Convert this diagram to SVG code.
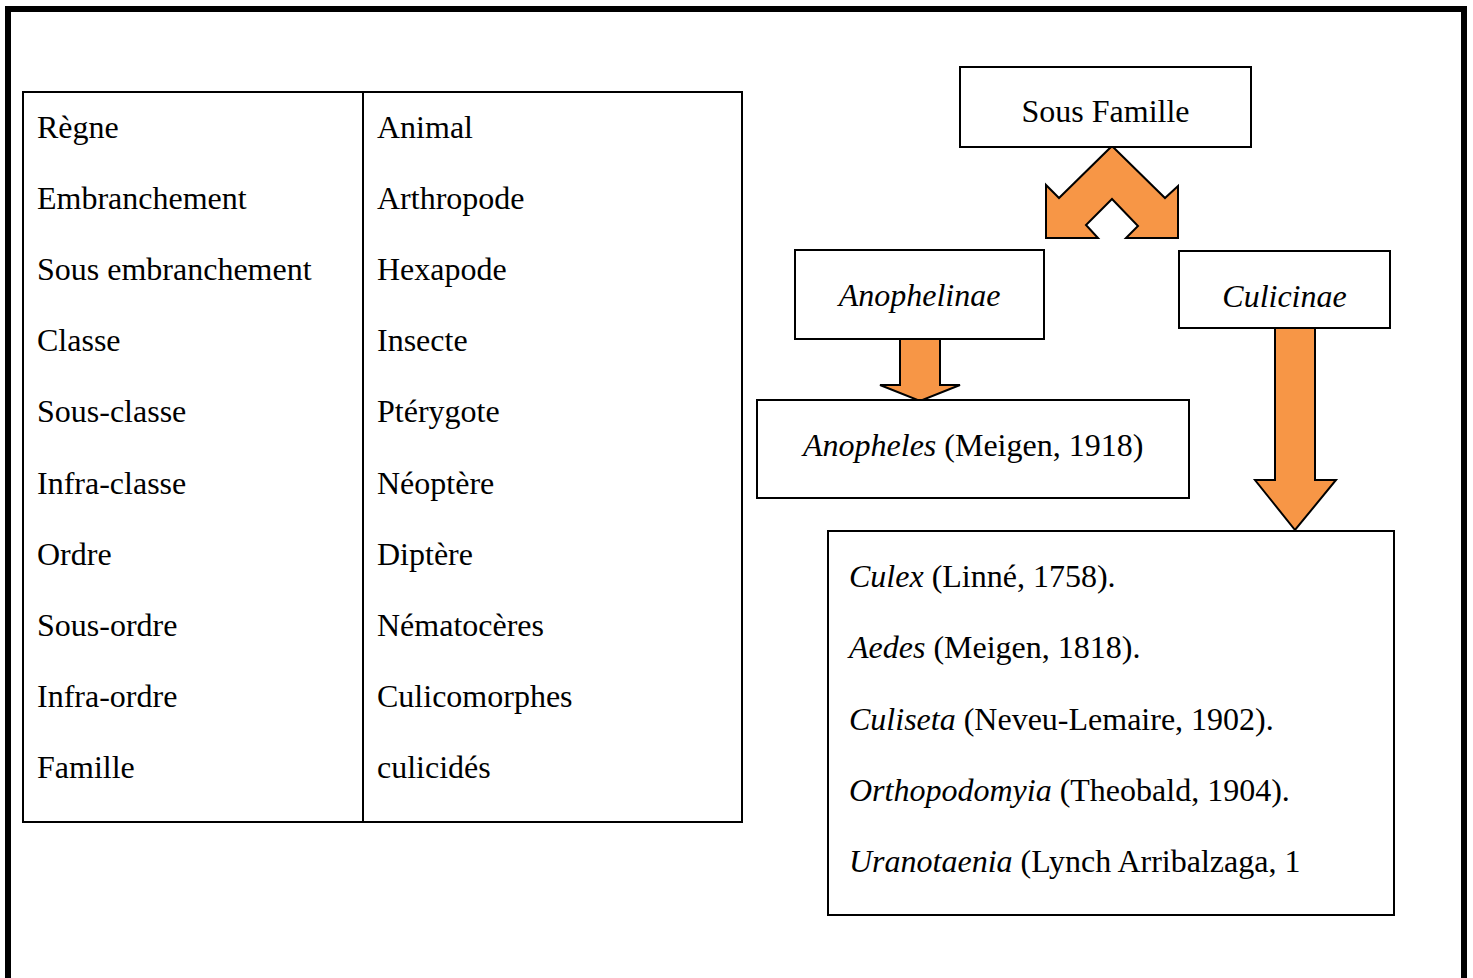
<svg xmlns="http://www.w3.org/2000/svg" width="1473" height="978" viewBox="0 0 1473 978">
<style>
text{font-family:"Liberation Serif","Times New Roman",serif;font-size:32px;fill:#000}
.i{font-style:italic}
.box{fill:#fff;stroke:#000;stroke-width:2}
.arr{fill:#F79646;stroke:#000;stroke-width:2;stroke-linejoin:miter}
</style>
<rect x="0" y="0" width="1473" height="978" fill="#fff"/>
<path d="M8,985 V9 H1464 V985" fill="none" stroke="#000" stroke-width="6"/>
<g id="table">
<rect class="box" x="23" y="92" width="719" height="730"/>
<line x1="363" y1="92" x2="363" y2="822" stroke="#000" stroke-width="2"/>
<text x="37" y="138">Règne</text>
<text x="37" y="209.1">Embranchement</text>
<text x="37" y="280.2">Sous embranchement</text>
<text x="37" y="351.3">Classe</text>
<text x="37" y="422.4">Sous-classe</text>
<text x="37" y="493.5">Infra-classe</text>
<text x="37" y="564.6">Ordre</text>
<text x="37" y="635.7">Sous-ordre</text>
<text x="37" y="706.8">Infra-ordre</text>
<text x="37" y="777.9">Famille</text>
<text x="377" y="138">Animal</text>
<text x="377" y="209.1">Arthropode</text>
<text x="377" y="280.2">Hexapode</text>
<text x="377" y="351.3">Insecte</text>
<text x="377" y="422.4">Ptérygote</text>
<text x="377" y="493.5">Néoptère</text>
<text x="377" y="564.6">Diptère</text>
<text x="377" y="635.7">Nématocères</text>
<text x="377" y="706.8">Culicomorphes</text>
<text x="377" y="777.9">culicidés</text>
</g>
<g id="connectors">
<path class="arr" d="M1112,146 L1165,198 L1178,186 L1178,238 L1126,238 L1138,226 L1112,199 L1086,225 L1098,238 L1046,238 L1046,185 L1059,198 Z"/>
<path class="arr" d="M900,339 L940,339 L940,385 L960,385 L920,401 L880,385 L900,385 Z"/>
<path class="arr" d="M1275,328 L1315,328 L1315,480 L1336,480 L1295,530 L1255,480 L1275,480 Z"/>
</g>
<g id="sous-famille">
<rect class="box" x="960" y="67" width="291" height="80"/>
<text x="1105.5" y="122" text-anchor="middle">Sous Famille</text>
</g>
<g id="anophelinae">
<rect class="box" x="795" y="250" width="249" height="89"/>
<text class="i" x="919.5" y="306" text-anchor="middle">Anophelinae</text>
</g>
<g id="culicinae">
<rect class="box" x="1179" y="251" width="211" height="77"/>
<text class="i" x="1284.5" y="307" text-anchor="middle">Culicinae</text>
</g>
<g id="anopheles">
<rect class="box" x="757" y="400" width="432" height="98"/>
<text x="803" y="456"><tspan class="i">Anopheles</tspan> (Meigen, 1918)</text>
</g>
<g id="culicines">
<rect class="box" x="828" y="531" width="566" height="384"/>
<text x="849" y="587"><tspan class="i">Culex</tspan> (Linné, 1758).</text>
<text x="849" y="658"><tspan class="i">Aedes</tspan> (Meigen, 1818).</text>
<text x="849" y="729.5"><tspan class="i">Culiseta</tspan> (Neveu-Lemaire, 1902).</text>
<text x="849" y="800.5"><tspan class="i">Orthopodomyia</tspan> (Theobald, 1904).</text>
<text x="849" y="871.5"><tspan class="i">Uranotaenia</tspan> (Lynch Arribalzaga, 1</text>
</g>
</svg>
